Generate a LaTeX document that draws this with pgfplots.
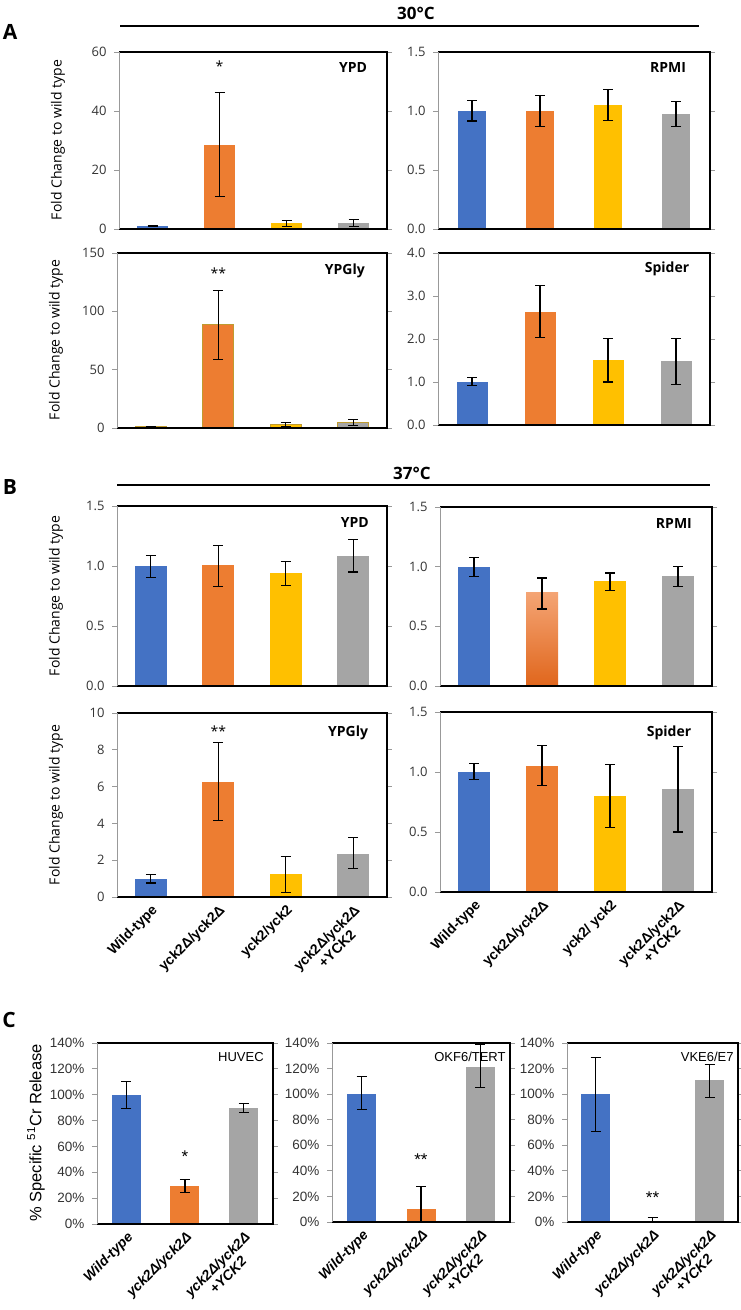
\documentclass[border=0pt]{standalone}
\usepackage{pgfplots}
\pgfplotsset{compat=1.18}
\usepackage{fontspec}
\setmainfont{Open Sans}
\newfontfamily\arialf{Liberation Sans}

\definecolor{cblue}{HTML}{4472C4}
\definecolor{corange}{HTML}{ED7D31}
\definecolor{cyellow}{HTML}{FFC000}
\definecolor{cgray}{HTML}{A5A5A5}
\definecolor{colive}{HTML}{BF9B30}
\definecolor{ctop}{HTML}{F4A474}
\definecolor{cbot}{HTML}{E0661C}

\tikzset{
  lab/.style={font=\bfseries\fontsize{14}{16}\selectfont},
  clab/.style={font=\arialf\fontsize{13}{15}\selectfont},
  ast/.style={font=\fontsize{14}{16}\selectfont},
  cast/.style={font=\arialf\fontsize{17}{18}\selectfont},
}

\pgfplotsset{
  panel/.style={
    scale only axis, anchor=north west,
    xmin=-0.5, xmax=3.5, ymin=0,
    xtick={0,1,2,3}, xticklabels={},
    xtick style={draw=none},
    tick align=outside, major tick length=5pt,
    ytick style={draw=black!40, line width=0.8pt},
    axis line style={draw=none},
    tick label style={font=\fontsize{13}{15}\selectfont, text=black!80},
    yticklabel style={xshift=-4pt},
    /pgf/number format/assume math mode=true,
    after end axis/.code={
      \draw[line width=1.6pt] (rel axis cs:0,1) -- (rel axis cs:1,1) -- (rel axis cs:1,0) -- (rel axis cs:0,0);
      \draw[black!40, line width=1pt] (rel axis cs:0,0) -- (rel axis cs:0,1);
    },
  },
  dec/.style={yticklabel style={/pgf/number format/.cd, fixed, fixed zerofill, precision=1}},
  blab/.style={xticklabel style={rotate=45, anchor=north east, align=center,
      font=\arialf\bfseries\fontsize{14}{15}\selectfont, text=black, inner sep=1pt}},
  cpanel/.style={panel, xmin=-0.5, xmax=2.5, xtick={0,1,2}, ymax=140, ytick={0,20,...,140},
    yticklabel={\pgfmathprintnumber{\tick}\%},
    tick label style={font=\arialf\fontsize{13.5}{15}\selectfont, text=black!80},
    bar width=29pt, blab,
    xticklabel style={font=\arialf\bfseries\itshape\fontsize{14}{15}\selectfont},
    xticklabels={Wild-type, yck2Δ/yck2Δ, {yck2Δ/yck2Δ\\+YCK2}}},
  cbar/.style={ybar, bar shift=0pt, fill=#1, draw=none,
    error bars/y dir=both, error bars/y explicit,
    error bars/error bar style={draw=black, line width=1.1pt},
    error bars/error mark options={draw=black, line width=1.1pt, mark size=5pt, rotate=90}},
}

\begin{document}
\begin{tikzpicture}
\useasboundingbox (0pt,0pt) rectangle (741pt,-1310pt);

% ---------------- A : 30 C ----------------
\node[font=\bfseries\fontsize{21}{24}\selectfont] at (10pt,-32pt) {A};
\node[font=\bfseries\fontsize{17}{20}\selectfont] at (416pt,-13pt) {30°C};
\draw[line width=2pt] (120pt,-26pt) -- (699pt,-26pt);

\begin{axis}[panel, at={(119pt,-52pt)}, width=268pt, height=177pt,
  ymax=60, ytick={0,20,40,60}, bar width=31pt]
\addplot[cbar=cblue]   coordinates {(0,1.0)  += (0,0.3)  -= (0,0.3)};
\addplot[cbar=corange] coordinates {(1,28.6) += (0,17.8) -= (0,17.7)};
\addplot[cbar=cyellow] coordinates {(2,2.0)  += (0,1.0)  -= (0,1.0)};
\addplot[cbar=cgray]   coordinates {(3,2.0)  += (0,1.3)  -= (0,1.2)};
\node[lab] at (rel axis cs:0.873,0.91) {YPD};
\node[ast] at (axis cs:1,55.2) {*};
\end{axis}

\begin{axis}[panel, dec, at={(438pt,-52pt)}, width=272pt, height=177pt,
  ymax=1.5, ytick={0,0.5,1,1.5}, bar width=28pt]
\addplot[cbar=cblue]   coordinates {(0,1.0)   += (0,0.09) -= (0,0.085)};
\addplot[cbar=corange] coordinates {(1,1.0)   += (0,0.13) -= (0,0.135)};
\addplot[cbar=cyellow] coordinates {(2,1.054) += (0,0.13) -= (0,0.135)};
\addplot[cbar=cgray]   coordinates {(3,0.975) += (0,0.105) -= (0,0.105)};
\node[lab] at (rel axis cs:0.846,0.91) {RPMI};
\end{axis}

\begin{axis}[panel, at={(117pt,-253pt)}, width=270pt, height=175pt,
  ymax=150, ytick={0,50,100,150}, bar width=31pt]
\addplot[cbar=cblue, draw=colive, line width=0.8pt]   coordinates {(0,1.0)  += (0,0.5)  -= (0,0.5)};
\addplot[cbar=corange, draw=colive, line width=0.8pt] coordinates {(1,88.8) += (0,29.2) -= (0,29.7)};
\addplot[cbar=cyellow, draw=colive, line width=0.8pt] coordinates {(2,3.0)  += (0,2.0)  -= (0,1.5)};
\addplot[cbar=cgray, draw=colive, line width=0.8pt]   coordinates {(3,4.5)  += (0,3.0)  -= (0,2.5)};
\node[lab] at (rel axis cs:0.844,0.897) {YPGly};
\node[ast] at (axis cs:1,132.9) {**};
\end{axis}

\begin{axis}[panel, dec, at={(438pt,-253pt)}, width=272pt, height=172pt,
  ymax=4, ytick={0,1,2,3,4}, bar width=31pt]
\addplot[cbar=cblue]   coordinates {(0,1.0)  += (0,0.1)  -= (0,0.08)};
\addplot[cbar=corange] coordinates {(1,2.63) += (0,0.61) -= (0,0.6)};
\addplot[cbar=cyellow] coordinates {(2,1.52) += (0,0.5)  -= (0,0.52)};
\addplot[cbar=cgray]   coordinates {(3,1.5)  += (0,0.52) -= (0,0.55)};
\node[lab] at (rel axis cs:0.842,0.907) {Spider};
\end{axis}

\node[rotate=90, font=\fontsize{14}{16}\selectfont] at (58pt,-140pt) {Fold Change to wild type};
\node[rotate=90, font=\fontsize{14}{16}\selectfont] at (56pt,-340pt) {Fold Change to wild type};

% ---------------- B : 37 C ----------------
\node[font=\bfseries\fontsize{21}{24}\selectfont] at (10pt,-487pt) {B};
\node[font=\bfseries\fontsize{17}{20}\selectfont] at (412pt,-473pt) {37°C};
\draw[line width=2pt] (117pt,-485pt) -- (710pt,-485pt);

\begin{axis}[panel, dec, at={(117pt,-506pt)}, width=270pt, height=180pt,
  ymax=1.5, ytick={0,0.5,1,1.5}, bar width=32pt]
\addplot[cbar=cblue]   coordinates {(0,1.0)   += (0,0.09)  -= (0,0.095)};
\addplot[cbar=corange] coordinates {(1,1.005) += (0,0.165) -= (0,0.175)};
\addplot[cbar=cyellow] coordinates {(2,0.94)  += (0,0.10)  -= (0,0.10)};
\addplot[cbar=cgray]   coordinates {(3,1.085) += (0,0.135) -= (0,0.135)};
\node[lab] at (rel axis cs:0.881,0.906) {YPD};
\end{axis}

\begin{axis}[panel, dec, at={(440pt,-507pt)}, width=272pt, height=179pt,
  ymax=1.5, ytick={0,0.5,1,1.5}, bar width=32pt]
\addplot[cbar=cblue]   coordinates {(0,1.0)   += (0,0.08)  -= (0,0.08)};
\addplot[cbar=corange, top color=ctop, bottom color=cbot] coordinates {(1,0.78) += (0,0.125) -= (0,0.135)};
\addplot[cbar=cyellow] coordinates {(2,0.877) += (0,0.07)  -= (0,0.077)};
\addplot[cbar=cgray]   coordinates {(3,0.92)  += (0,0.08)  -= (0,0.085)};
\node[lab] at (rel axis cs:0.86,0.906) {RPMI};
\end{axis}

\begin{axis}[panel, blab, at={(117pt,-713pt)}, width=270pt, height=184pt,
  ymax=10, ytick={0,2,4,6,8,10}, bar width=32pt,
  xticklabels={Wild-type, yck2Δ/yck2Δ, yck2/yck2, {yck2Δ/yck2Δ\\+YCK2}}]
\addplot[cbar=cblue]   coordinates {(0,1.0)  += (0,0.23) -= (0,0.24)};
\addplot[cbar=corange] coordinates {(1,6.26) += (0,2.16) -= (0,2.08)};
\addplot[cbar=cyellow] coordinates {(2,1.25) += (0,0.95) -= (0,1.0)};
\addplot[cbar=cgray]   coordinates {(3,2.35) += (0,0.9)  -= (0,0.8)};
\node[lab] at (rel axis cs:0.856,0.891) {YPGly};
\node[ast] at (axis cs:1,9.0) {**};
\end{axis}

\begin{axis}[panel, dec, blab, at={(440pt,-712pt)}, width=272pt, height=180pt,
  ymax=1.5, ytick={0,0.5,1,1.5}, bar width=32pt,
  xticklabels={Wild-type, yck2Δ/yck2Δ, yck2/ yck2, {yck2Δ/yck2Δ\\+YCK2}}]
\addplot[cbar=cblue]   coordinates {(0,1.0)  += (0,0.07)  -= (0,0.06)};
\addplot[cbar=corange] coordinates {(1,1.05) += (0,0.17)  -= (0,0.165)};
\addplot[cbar=cyellow] coordinates {(2,0.80) += (0,0.266) -= (0,0.26)};
\addplot[cbar=cgray]   coordinates {(3,0.86) += (0,0.355) -= (0,0.36)};
\node[lab] at (rel axis cs:0.842,0.883) {Spider};
\end{axis}

\node[rotate=90, font=\fontsize{14}{16}\selectfont] at (56pt,-596pt) {Fold Change to wild type};
\node[rotate=90, font=\fontsize{14}{16}\selectfont] at (56pt,-805pt) {Fold Change to wild type};

% ---------------- C ----------------
\node[font=\bfseries\fontsize{21}{24}\selectfont] at (9pt,-1020pt) {C};

\begin{axis}[cpanel, at={(97pt,-1043pt)}, width=176pt, height=181pt]
\addplot[cbar=cblue]   coordinates {(0,100)  += (0,10)  -= (0,10.5)};
\addplot[cbar=corange] coordinates {(1,29.6) += (0,5)   -= (0,4.9)};
\addplot[cbar=cgray]   coordinates {(2,89.5) += (0,3.8) -= (0,3.1)};
\node[clab] at (rel axis cs:0.818,0.923) {HUVEC};
\node[cast] at (axis cs:1,51.8) {*};
\end{axis}

\begin{axis}[cpanel, at={(332pt,-1043pt)}, width=178pt, height=179pt]
\addplot[cbar=cblue]   coordinates {(0,100)  += (0,13.5) -= (0,12)};
\addplot[cbar=corange] coordinates {(1,10.5) += (0,17)   -= (0,17.5)};
\addplot[cbar=cgray]   coordinates {(2,121)  += (0,17.8) -= (0,16)};
\node[clab] at (rel axis cs:0.775,0.923) {OKF6/TERT};
\node[cast] at (axis cs:1,48.4) {**};
\end{axis}

\begin{axis}[cpanel, at={(567pt,-1043pt)}, width=171pt, height=179pt]
\addplot[cbar=cblue]   coordinates {(0,100)   += (0,28.4) -= (0,29.1)};
\addplot[cbar=cblue!45] coordinates {(1,0.6)  += (0,3.2)  -= (0,4)};
\addplot[cbar=cgray]   coordinates {(2,110.9) += (0,12.5) -= (0,13.2)};
\node[clab] at (rel axis cs:0.82,0.923) {VKE6/E7};
\node[cast] at (axis cs:1,18.7) {**};
\end{axis}

\node[rotate=90, font=\arialf\fontsize{16.5}{18}\selectfont] at (36pt,-1133pt) {\% Specific \textsuperscript{51}Cr Release};
\end{tikzpicture}
\end{document}
